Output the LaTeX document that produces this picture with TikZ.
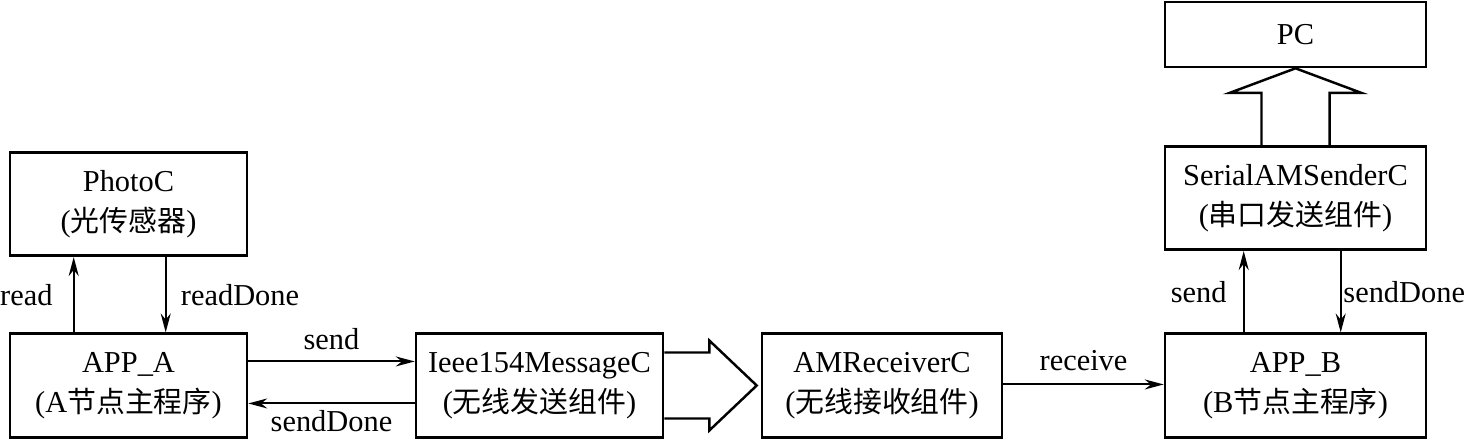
\documentclass[tikz,border=0pt]{standalone}
\usepackage{fontspec}
\setmainfont{Liberation Serif}
\newfontfamily\cjk{Noto Sans CJK SC}[Scale=0.95]
\usetikzlibrary{arrows.meta,calc}

\begin{document}
\begin{tikzpicture}[x=0.02cm,y=-0.02cm,line width=1.1pt,>={Stealth[length=3.8mm,width=2mm]},
  blk/.style={draw,line width=1.5pt,align=center,minimum height=2.07cm,inner sep=0pt,
    font=\fontsize{17.3}{23}\selectfont},
  lbl/.style={font=\fontsize{17.3}{20}\selectfont,inner sep=3pt}]
  \useasboundingbox (0,0) rectangle (1473,440);
  % left side
  \node[blk,minimum width=4.74cm] (photo) at (128.5,204) {PhotoC\\({\cjk 光传感器})};
  \node[blk,minimum width=4.74cm] (appA) at (128.5,385.5) {APP\_A\\(A{\cjk 节点主程序})};
  \node[blk,minimum width=4.94cm] (ieee) at (539.5,385.5) {Ieee154MessageC\\({\cjk 无线发送组件})};
  \node[blk,minimum width=4.8cm] (amr) at (882,385.5) {AMReceiverC\\({\cjk 无线接收组件})};
  % right side
  \node[blk,minimum width=5.22cm] (appB) at (1295.5,385.5) {APP\_B\\(B{\cjk 节点主程序})};
  \node[blk,minimum width=5.22cm] (serial) at (1295.5,198) {SerialAMSenderC\\({\cjk 串口发送组件})};
  \node[blk,minimum width=5.22cm,minimum height=1.3cm] (pc) at (1295.5,34.5) {PC};

  \draw[->] ($(appA.north west)+(65,0)$) -- ($(photo.south west)+(65,0)$) node[lbl,midway,left,xshift=-0.3cm]{read};
  \draw[->] ($(photo.south west)+(157,0)$) -- ($(appA.north west)+(157,0)$) node[lbl,midway,right,xshift=0.18cm]{readDone};
  \draw[->] ($(appA.north east)+(0,29)$) -- ($(ieee.north west)+(0,29)$) node[lbl,midway,above,yshift=0.1cm]{send};
  \draw[->] ($(ieee.north west)+(0,71)$) -- ($(appA.north east)+(0,71)$) node[lbl,midway,below,inner sep=1pt,yshift=-0.08cm]{sendDone};
  \draw[->] ($(amr.north east)+(0,52)$) -- ($(appB.north west)+(0,52)$) node[lbl,midway,above,yshift=0.15cm]{receive};
  \draw[->] ($(appB.north west)+(80,0)$) -- ($(serial.south west)+(80,0)$) node[lbl,midway,left,xshift=-0.22cm]{send};
  \draw[->] ($(serial.south west)+(177,0)$) -- ($(appB.north west)+(177,0)$) node[lbl,midway,right,inner sep=1pt]{sendDone};

  % hollow arrows
  \draw[line width=1.4pt] ($(ieee.east)+(0,-33)$) -- ++(45,0) -- ++(0,-12) -- ($(amr.west)+(-4,0)$)
    -- ($(ieee.east)+(45,45)$) -- ++(0,-12) -- ($(ieee.east)+(0,33)$);
  \draw[line width=1.4pt] ($(serial.north)+(-34,0)$) -- ++(0,-52) -- ++(-32,0) -- (pc.south)
    -- ($(serial.north)+(66,-52)$) -- ++(-32,0) -- ++(0,52);
\end{tikzpicture}
\end{document}
